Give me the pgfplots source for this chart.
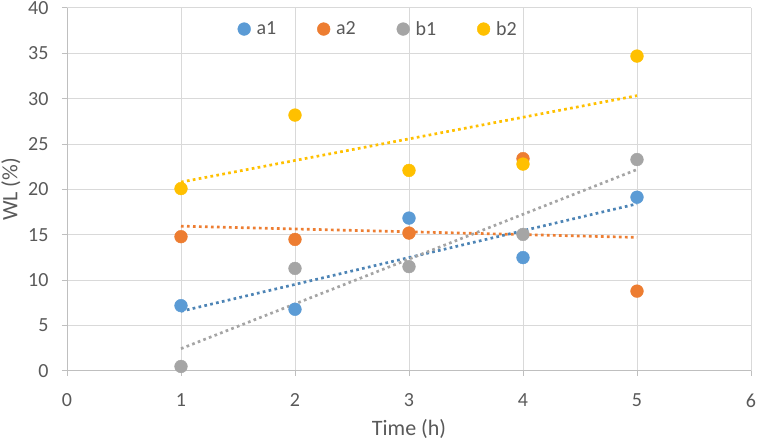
\documentclass[border=0pt]{standalone}
\usepackage{fontspec}
\setmainfont{Carlito}
\usepackage{pgfplots}
\usepackage{pgfplotstable}
\pgfplotsset{compat=1.18}
\definecolor{ca}{HTML}{5B9BD5}
\definecolor{cb}{HTML}{ED7D31}
\definecolor{cc}{HTML}{A5A5A5}
\definecolor{cd}{HTML}{FFC000}
\definecolor{grd}{HTML}{D9D9D9}
\definecolor{axc}{HTML}{BFBFBF}
\definecolor{txt}{HTML}{595959}
\pgfplotstableread{
x a1 a2 b1 b2
1 7.2 14.8 0.5 20.1
2 6.8 14.5 11.3 28.2
3 16.85 15.2 11.5 22.1
4 12.5 23.4 15.05 22.8
5 19.15 8.8 23.3 34.7
}\data
\tikzset{
  pt/.style={only marks, mark=*, mark size=6.4bp, mark options={fill=#1, draw=#1, solid}, color=#1},
  trend/.style={no marks, sharp plot, color=#1, line width=2.7bp, dash pattern=on 2.7bp off 3.3bp},
}
\begin{document}
\begin{tikzpicture}
\begin{axis}[
  name=ax,
  scale only axis,
  width=684bp, height=363bp,
  xmin=0, xmax=6, ymin=0, ymax=40,
  xtick={0,1,...,6}, ytick={0,5,...,40},
  /pgf/number format/assume math mode=true,
  grid=major,
  major grid style={grd, line width=1bp},
  axis line style={axc, line width=1bp},
  axis x line*=bottom, axis y line*=left,
  tick align=outside,
  major tick length=5bp,
  tick style={axc, line width=1bp},
  every tick label/.append style={font=\fontsize{20bp}{24bp}\selectfont, text=txt},
  xticklabel style={yshift=-14bp},
  yticklabel style={xshift=-10bp},
  xlabel={Time (h)},
  ylabel={WL (\%)},
  label style={font=\fontsize{22bp}{26bp}\selectfont, text=txt},
  xlabel style={yshift=-5bp},
  ylabel style={yshift=1bp},
  legend columns=4,
  legend style={draw=none, fill=none, at={(0.455,0.942)}, anchor=center,
    font=\fontsize{20bp}{24bp}\selectfont, text=txt,
    /tikz/every odd column/.append style={column sep=4bp},
    /tikz/every even column/.append style={column sep=39bp},
    inner sep=0pt},
  legend image code/.code={\draw[#1] plot coordinates {(0bp,0bp)};},
]
\addplot[pt=ca] table[x=x,y=a1] {\data};
\addlegendentry{a1}
\addplot[pt=cb] table[x=x,y=a2] {\data};
\addlegendentry{a2}
\addplot[pt=cc] table[x=x,y=b1] {\data};
\addlegendentry{b1}
\addplot[pt=cd] table[x=x,y=b2] {\data};
\addlegendentry{b2}
\addplot[trend=ca!85!black, forget plot] table[x=x, y={create col/linear regression={y=a1}}] {\data};
\addplot[trend=cb, forget plot] table[x=x, y={create col/linear regression={y=a2}}] {\data};
\addplot[trend=cc, forget plot] table[x=x, y={create col/linear regression={y=b1}}] {\data};
\addplot[trend=cd, forget plot] table[x=x, y={create col/linear regression={y=b2}}] {\data};
\end{axis}
\pgfresetboundingbox
\path ([xshift=-67bp,yshift=-71bp]ax.south west) rectangle ([xshift=6bp,yshift=8bp]ax.north east);
\end{tikzpicture}
\end{document}
